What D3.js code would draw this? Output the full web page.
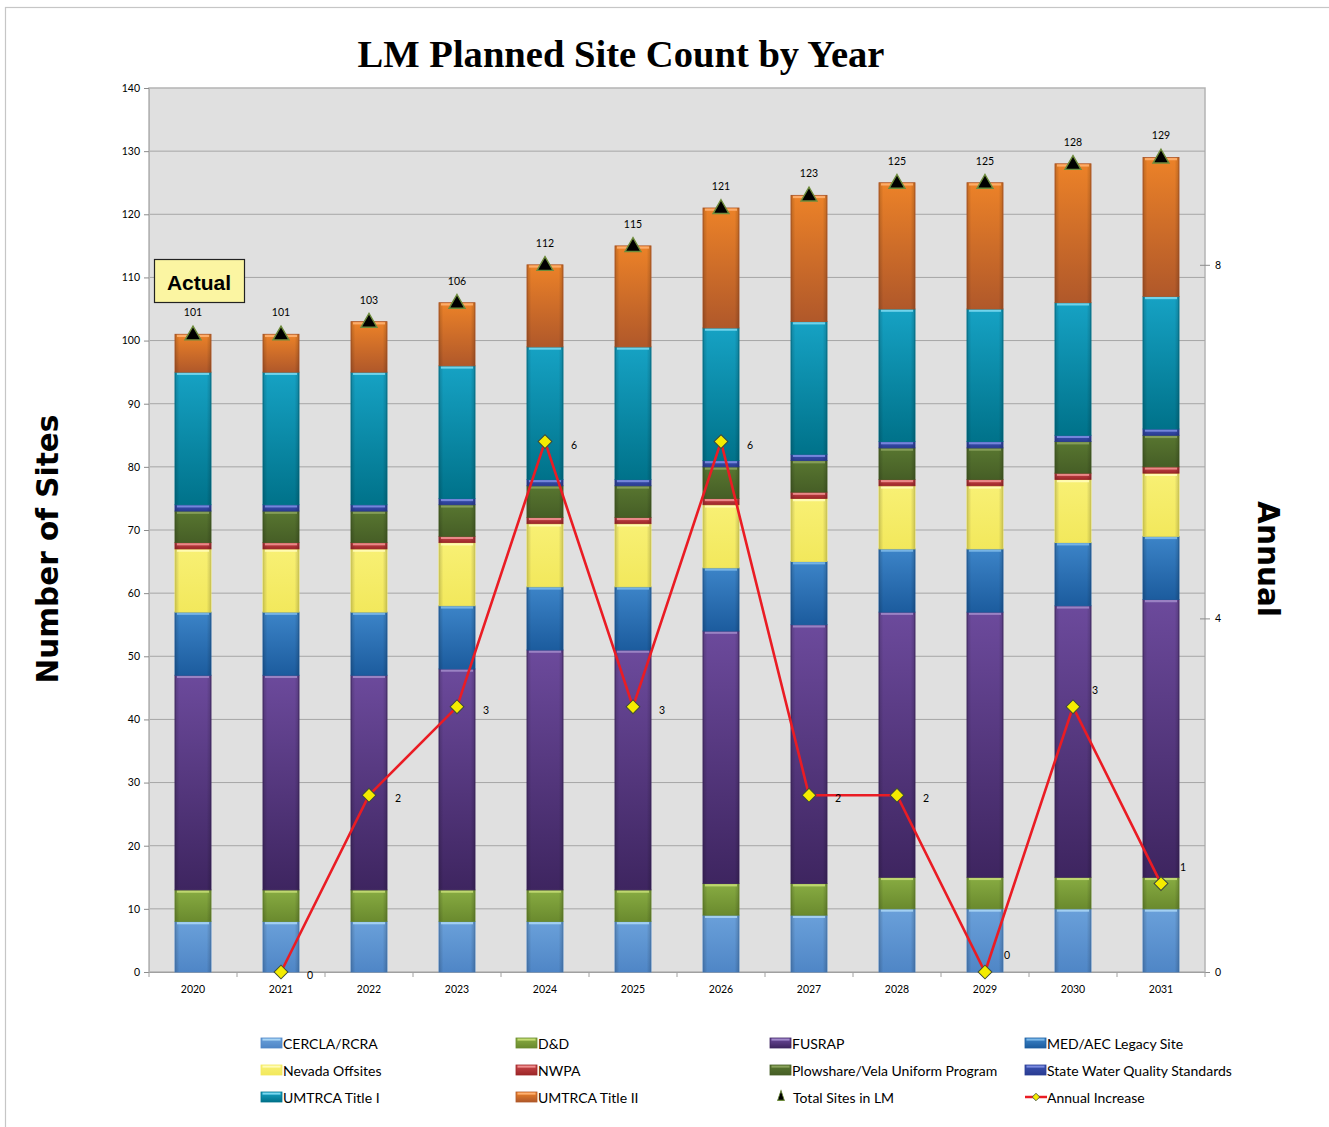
<!DOCTYPE html>
<html>
<head>
<meta charset="utf-8">
<script src="https://cdn.jsdelivr.net/npm/d3@7"></script>
<style>
  html, body { margin: 0; padding: 0; background: #fff; }
  svg { display: block; }
</style>
</head>
<body>
<svg id="chart" width="1329" height="1127"></svg>
<script>
// ---------------- DATA ----------------
const years = ["2020","2021","2022","2023","2024","2025","2026","2027","2028","2029","2030","2031"];
const cerclaRcra      = [8, 8, 8, 8, 8, 8, 9, 9, 10, 10, 10, 10];
const dAndD           = [5, 5, 5, 5, 5, 5, 5, 5, 5, 5, 5, 5];
const fusrap          = [34, 34, 34, 35, 38, 38, 40, 41, 42, 42, 43, 44];
const medAecLegacy    = [10, 10, 10, 10, 10, 10, 10, 10, 10, 10, 10, 10];
const nevadaOffsites  = [10, 10, 10, 10, 10, 10, 10, 10, 10, 10, 10, 10];
const nwpa            = [1, 1, 1, 1, 1, 1, 1, 1, 1, 1, 1, 1];
const plowshareVela   = [5, 5, 5, 5, 5, 5, 5, 5, 5, 5, 5, 5];
const stateWater      = [1, 1, 1, 1, 1, 1, 1, 1, 1, 1, 1, 1];
const umtrcaTitleI    = [21, 21, 21, 21, 21, 21, 21, 21, 21, 21, 21, 21];
const umtrcaTitleII   = [6, 6, 8, 10, 13, 16, 19, 20, 20, 20, 22, 22];
const totalSites      = [101, 101, 103, 106, 112, 115, 121, 123, 125, 125, 128, 129];
const annualIncrease  = [null, 0, 2, 3, 6, 3, 6, 2, 2, 0, 3, 1];
const seriesNames = ["CERCLA/RCRA","D&D","FUSRAP","MED/AEC Legacy Site","Nevada Offsites","NWPA",
  "Plowshare/Vela Uniform Program","State Water Quality Standards","UMTRCA Title I","UMTRCA Title II"];
const seriesValues = [cerclaRcra, dAndD, fusrap, medAecLegacy, nevadaOffsites, nwpa,
  plowshareVela, stateWater, umtrcaTitleI, umtrcaTitleII];
const leftTicks  = [0,10,20,30,40,50,60,70,80,90,100,110,120,130,140];
const rightTicks = [0,4,8];
const titleText = "LM Planned Site Count by Year";

// colours: [top, bottom, highlight]
const seriesColors = [
  ["#6aa0da","#4f86c6","#a8d4f4"],
  ["#88ac42","#6a8a2e","#c4dc74"],
  ["#6c4a9c","#3e2560","#a088c8"],
  ["#3c84c8","#1c5c9e","#7cb8e8"],
  ["#f8f074","#f2e85c","#fffcb8"],
  ["#c8474a","#9c2628","#f09090"],
  ["#587630","#465e26","#8aa25c"],
  ["#3a52b0","#2a3c92","#7c8ce0"],
  ["#16a2c4","#00728a","#78d8f0"],
  ["#ec8228","#b0582a","#ffb070"]
];

// ---------------- SETUP ----------------
const svg = d3.select("#chart");
const plot = {left: 149, right: 1205, top: 88, bottom: 972};

svg.append("rect").attr("x", 5.5).attr("y", 7.5).attr("width", 1340).attr("height", 1140)
  .attr("fill", "#fff").attr("stroke", "#c6c6c6").attr("stroke-width", 1.2);

const defs = svg.append("defs");
seriesColors.forEach((c, i) => {
  const g = defs.append("linearGradient").attr("id", "g" + i)
    .attr("x1", 0).attr("y1", 0).attr("x2", 0).attr("y2", 1);
  g.append("stop").attr("offset", "0%").attr("stop-color", c[0]);
  g.append("stop").attr("offset", "100%").attr("stop-color", c[1]);
  const h = defs.append("linearGradient").attr("id", "h" + i)
    .attr("x1", 0).attr("y1", 0).attr("x2", 1).attr("y2", 0);
  h.append("stop").attr("offset", "0%").attr("stop-color", "#000").attr("stop-opacity", 0.18);
  h.append("stop").attr("offset", "12%").attr("stop-color", "#000").attr("stop-opacity", 0);
  h.append("stop").attr("offset", "88%").attr("stop-color", "#000").attr("stop-opacity", 0);
  h.append("stop").attr("offset", "100%").attr("stop-color", "#000").attr("stop-opacity", 0.18);
});

const x = d3.scaleBand().domain(years).range([plot.left, plot.right]).paddingInner(0.59).paddingOuter(0.295);
const xb = d3.scaleBand().domain(years).range([plot.left, plot.right]);
const y = d3.scaleLinear().domain([0, 140]).range([plot.bottom, plot.top]);
const y2 = d3.scaleLinear().domain([0, 10]).range([plot.bottom, plot.top]);

// plot background
svg.append("rect").attr("x", plot.left).attr("y", plot.top)
  .attr("width", plot.right - plot.left).attr("height", plot.bottom - plot.top)
  .attr("fill", "#e0e0e0").attr("stroke", "#b4b4b4").attr("stroke-width", 1.5);

// gridlines
svg.append("g").selectAll("line").data(leftTicks.filter(t => t > 0 && t < 140)).join("line")
  .attr("x1", plot.left).attr("x2", plot.right)
  .attr("y1", d => y(d)).attr("y2", d => y(d))
  .attr("stroke", "#a6a6a6").attr("stroke-width", 1);

// title
svg.append("text").attr("x", 621).attr("y", 67).attr("text-anchor", "middle")
  .attr("font-family", "Liberation Serif, Times New Roman, serif").attr("font-weight", "bold")
  .attr("font-size", 38.6).attr("fill", "#000").text(titleText);

// left axis
const leftAxis = svg.append("g").attr("transform", `translate(${plot.left},0)`)
  .call(d3.axisLeft(y).tickValues(leftTicks).tickSize(5).tickPadding(4));
leftAxis.select(".domain").attr("stroke", "#b4b4b4");
leftAxis.selectAll(".tick line").attr("stroke", "#8c8c8c");
leftAxis.selectAll("text").attr("font-family", "Lato, Open Sans, sans-serif").attr("font-size", 10.5).attr("fill", "#000");

// right axis
const rightAxis = svg.append("g").attr("transform", `translate(${plot.right},0)`)
  .call(d3.axisRight(y2).tickValues(rightTicks).tickSizeInner(5).tickSizeOuter(0).tickPadding(5));
rightAxis.select(".domain").remove();
rightAxis.selectAll(".tick line").attr("stroke", "#8c8c8c").attr("x1", -5).attr("x2", 5);
rightAxis.selectAll("text").attr("font-family", "Lato, Open Sans, sans-serif").attr("font-size", 10.5).attr("fill", "#000");

// bottom axis
const bottomAxis = svg.append("g").attr("transform", `translate(0,${plot.bottom})`)
  .call(d3.axisBottom(x).tickSize(0).tickPadding(14));
bottomAxis.select(".domain").attr("stroke", "#a0a0a0");
bottomAxis.selectAll("text").attr("font-family", "Lato, Open Sans, sans-serif").attr("font-size", 10.5).attr("fill", "#000");
svg.append("g").selectAll("line").data(years).join("line")
  .attr("x1", d => xb(d)).attr("x2", d => xb(d))
  .attr("y1", plot.bottom).attr("y2", plot.bottom + 5).attr("stroke", "#a0a0a0");
svg.append("line").attr("x1", plot.right).attr("x2", plot.right)
  .attr("y1", plot.bottom).attr("y2", plot.bottom + 5).attr("stroke", "#a0a0a0");

// axis titles
svg.append("text").attr("transform", "translate(58,549) rotate(-90)").attr("text-anchor", "middle")
  .attr("font-family", "DejaVu Sans, Verdana, sans-serif").attr("font-weight", "bold")
  .attr("font-size", 29.5).text("Number of Sites");
svg.append("text").attr("transform", "translate(1258,559) rotate(90)").attr("text-anchor", "middle")
  .attr("font-family", "DejaVu Sans, Verdana, sans-serif").attr("font-weight", "bold")
  .attr("font-size", 29.5).text("Annual");

// stacked bars
const table = years.map((yr, i) => {
  const o = {year: yr};
  seriesNames.forEach((n, k) => o[n] = seriesValues[k][i]);
  return o;
});
const stacked = d3.stack().keys(seriesNames)(table);
const bw = x.bandwidth();
stacked.forEach((layer, k) => {
  const g = svg.append("g");
  layer.forEach(d => {
    const x0 = x(d.data.year);
    const yt = y(d[1]), yb = y(d[0]);
    const h = yb - yt;
    if (h <= 0) return;
    g.append("rect").attr("x", x0).attr("y", yt).attr("width", bw).attr("height", h)
      .attr("fill", `url(#g${k})`).attr("stroke", seriesColors[k][1]).attr("stroke-width", 0.8);
    g.append("rect").attr("x", x0).attr("y", yt).attr("width", bw).attr("height", h)
      .attr("fill", `url(#h${k})`);
    g.append("rect").attr("x", x0 + 2).attr("y", yt + 0.6).attr("width", bw - 4).attr("height", Math.min(2.2, h / 3))
      .attr("fill", seriesColors[k][2]).attr("opacity", 0.9);
  });
});

// annual increase line
const lineData = annualIncrease.map((v, i) => ({year: years[i], v, i})).filter(d => d.v !== null);
const cx = d => x(d.year) + bw / 2;
svg.append("path").datum(lineData)
  .attr("d", d3.line().x(cx).y(d => y2(d.v)))
  .attr("fill", "none").attr("stroke", "#ea1c24").attr("stroke-width", 2.6);
svg.append("g").selectAll("path").data(lineData).join("path")
  .attr("d", d3.symbol().type(d3.symbolSquare).size(95))
  .attr("transform", d => `translate(${cx(d)},${y2(d.v)}) rotate(45)`)
  .attr("fill", "#f4ec00").attr("stroke", "#3c4a3c").attr("stroke-width", 1);
svg.append("g").selectAll("text").data(lineData).join("text")
  .attr("x", d => cx(d) + (d.i >= 9 ? 22 : 29))
  .attr("y", d => y2(d.v) + (d.i >= 9 ? -17 : 3) + 4)
  .attr("text-anchor", "middle")
  .attr("font-family", "Lato, Open Sans, sans-serif").attr("font-size", 10.5).text(d => d.v);

// totals
const totData = totalSites.map((v, i) => ({year: years[i], v}));
svg.append("g").selectAll("path").data(totData).join("path")
  .attr("d", d3.symbol().type(d3.symbolTriangle).size(110))
  .attr("transform", d => `translate(${cx(d)},${y(d.v) + 1})`)
  .attr("fill", "#000").attr("stroke", "#6e8c3c").attr("stroke-width", 1.4);
svg.append("g").selectAll("text").data(totData).join("text")
  .attr("x", d => cx(d)).attr("y", d => y(d.v) - 18)
  .attr("text-anchor", "middle")
  .attr("font-family", "Lato, Open Sans, sans-serif").attr("font-size", 10.5).text(d => d.v);

// Actual box
svg.append("rect").attr("x", 154.5).attr("y", 259.5).attr("width", 90).attr("height", 43)
  .attr("fill", "#fbf5a2").attr("stroke", "#222").attr("stroke-width", 1.2);
svg.append("text").attr("x", 199).attr("y", 290).attr("text-anchor", "middle")
  .attr("font-family", "Liberation Sans, Arial, sans-serif").attr("font-weight", "bold")
  .attr("font-size", 21).text("Actual");

// legend
const legendItems = seriesNames.map((n, k) => ({name: n, type: "bar", k}))
  .concat([{name: "Total Sites in LM", type: "tri"}, {name: "Annual Increase", type: "line"}]);
const colX = [261, 516, 770, 1025], rowY = [1043, 1070, 1097];
const lg = svg.append("g");
legendItems.forEach((it, i) => {
  const lx = colX[i % 4], ly = rowY[Math.floor(i / 4)];
  const g = lg.append("g").attr("transform", `translate(${lx},${ly})`);
  if (it.type === "bar") {
    g.append("rect").attr("x", 0).attr("y", -5).attr("width", 21).attr("height", 10)
      .attr("fill", `url(#g${it.k})`).attr("stroke", seriesColors[it.k][1]).attr("stroke-width", 0.8);
    g.append("rect").attr("x", 1.5).attr("y", -4.4).attr("width", 18).attr("height", 2)
      .attr("fill", seriesColors[it.k][2]);
  } else if (it.type === "tri") {
    g.append("path").attr("d", d3.symbol().type(d3.symbolTriangle).size(40))
      .attr("transform", "translate(11,0) scale(0.7,1.2)")
      .attr("fill", "#000").attr("stroke", "#6e8c3c").attr("stroke-width", 1);
  } else {
    g.append("line").attr("x1", 0).attr("x2", 22).attr("y1", 0).attr("y2", 0)
      .attr("stroke", "#ea1c24").attr("stroke-width", 2.5);
    g.append("path").attr("d", d3.symbol().type(d3.symbolSquare).size(28))
      .attr("transform", "translate(11,0) rotate(45)")
      .attr("fill", "#f4ec00").attr("stroke", "#3c4a3c").attr("stroke-width", 0.8);
  }
  g.append("text").attr("x", it.type === "tri" ? 23 : 22).attr("y", 5.5)
    .attr("font-family", "Lato, Open Sans, sans-serif").attr("font-size", 14)
    .attr("fill", "#000").text(it.name);
});
</script>
</body>
</html>
